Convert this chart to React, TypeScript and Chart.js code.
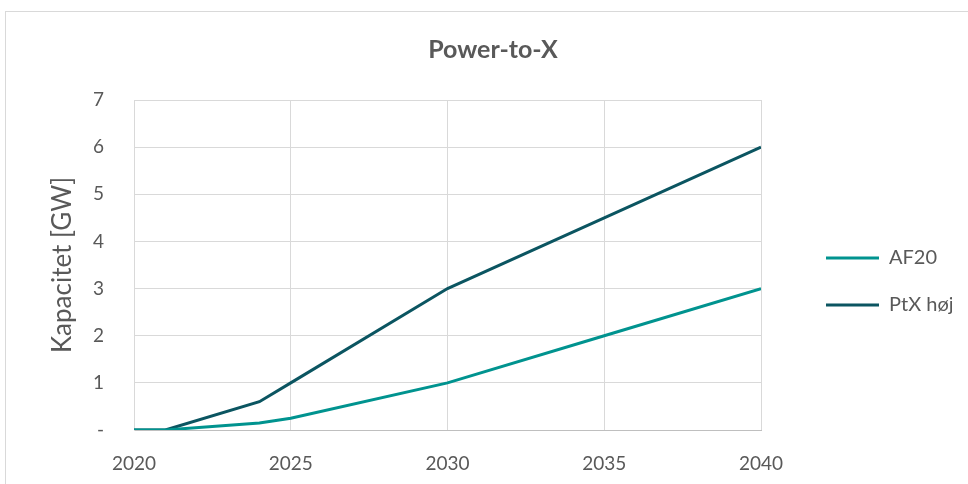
import React, { useEffect, useRef } from "react";
import { Chart, registerables } from "chart.js";

Chart.register(...registerables);

const years = [2020, 2021, 2024, 2025, 2030, 2035, 2040];
const af20 = [0, 0, 0.15, 0.25, 1.0, 2.0, 3.0];
const ptxHoej = [0, 0, 0.6, 1.0, 3.0, 4.5, 6.0];
const seriesNames = ["AF20", "PtX høj"];
const seriesColors = ["#00938F", "#0B5561"];
const yTicks = [0, 1, 2, 3, 4, 5, 6, 7];
const xTicks = [2020, 2025, 2030, 2035, 2040];

const FONT = "Lato, 'Open Sans', sans-serif";
const GREY = "#595959";

export default function App() {
  const ref = useRef<HTMLCanvasElement | null>(null);
  useEffect(() => {
    if (!ref.current) return;
    const mk = (vals: number[]) => years.map((x, i) => ({ x, y: vals[i] }));
    const chart = new Chart(ref.current, {
      type: "line",
      data: {
        datasets: [af20, ptxHoej].map((vals, i) => ({
          label: seriesNames[i],
          data: mk(vals),
          borderColor: seriesColors[i],
          backgroundColor: seriesColors[i],
          borderWidth: 3,
          pointRadius: 0,
          tension: 0,
          fill: false,
          yAxisID: "y",
        })),
      },
      options: {
        responsive: false,
        animation: false,
        events: [],
        layout: { padding: { left: 34, right: 16, top: 0, bottom: 8 } },
        plugins: {
          title: {
            display: true,
            text: "Power-to-X",
            color: GREY,
            font: { family: FONT, size: 25, weight: "bold" },
            padding: { top: 35, bottom: 35 },
          },
          legend: {
            position: "right",
            title: {
              display: true,
              text: " ",
              font: { family: FONT, size: 10 },
              padding: { top: 75, bottom: 0 },
            },
            labels: {
              color: GREY,
              font: { family: FONT, size: 20 },
              boxWidth: 53,
              boxHeight: 3,
              padding: 27,
              generateLabels: (c: any) =>
                c.data.datasets.map((d: any, i: number) => ({
                  text: d.label,
                  fillStyle: d.borderColor,
                  strokeStyle: d.borderColor,
                  lineWidth: 0,
                  fontColor: GREY,
                  datasetIndex: i,
                  hidden: false,
                })),
            },
          },
          tooltip: { enabled: false },
        },
        scales: {
          x: {
            type: "linear",
            min: 2020,
            max: 2040,
            afterBuildTicks: (s: any) => {
              s.ticks = xTicks.map((v) => ({ value: v }));
            },
            afterFit: (s: any) => {
              s.height = 46;
            },
            ticks: {
              color: GREY,
              font: { family: FONT, size: 19 },
              padding: 22,
              callback: (v: any) => String(v),
            },
            grid: { color: "#d9d9d9", drawTicks: false },
            border: { color: "#bfbfbf", width: 1 },
          },
          y: {
            min: 0,
            max: 7,
            afterBuildTicks: (s: any) => {
              s.ticks = yTicks.map((v) => ({ value: v }));
            },
            afterFit: (s: any) => {
              s.width = 100;
            },
            ticks: {
              color: GREY,
              font: { family: FONT, size: 19 },
              padding: 30,
              callback: (v: any) => (Number(v) === 0 ? "-" : String(v)),
            },
            title: {
              display: true,
              text: "Kapacitet [GW]",
              color: GREY,
              font: { family: FONT, size: 26 },
              padding: { top: 13, bottom: 0 },
            },
            grid: { color: "#d9d9d9", drawTicks: false },
            border: { color: "#d9d9d9", width: 1 },
          },
          spacer: {
            type: "linear",
            position: "right",
            display: true,
            afterFit: (s: any) => {
              s.width = 38;
            },
            ticks: { display: false },
            grid: { display: false, drawTicks: false },
            border: { display: false },
          },
        },
      },
    });
    return () => chart.destroy();
  }, []);

  return (
    <div style={{ position: "absolute", left: 0, top: 0, width: 968, height: 484, overflow: "hidden", background: "#fff" }}>
      <div
        style={{
          position: "absolute",
          left: 5,
          top: 11,
          width: 1000,
          height: 520,
          border: "1px solid #d9d9d9",
          boxSizing: "border-box",
        }}
      />
      <canvas ref={ref} width={968} height={484} style={{ position: "absolute", left: 0, top: 0 }} />
    </div>
  );
}
